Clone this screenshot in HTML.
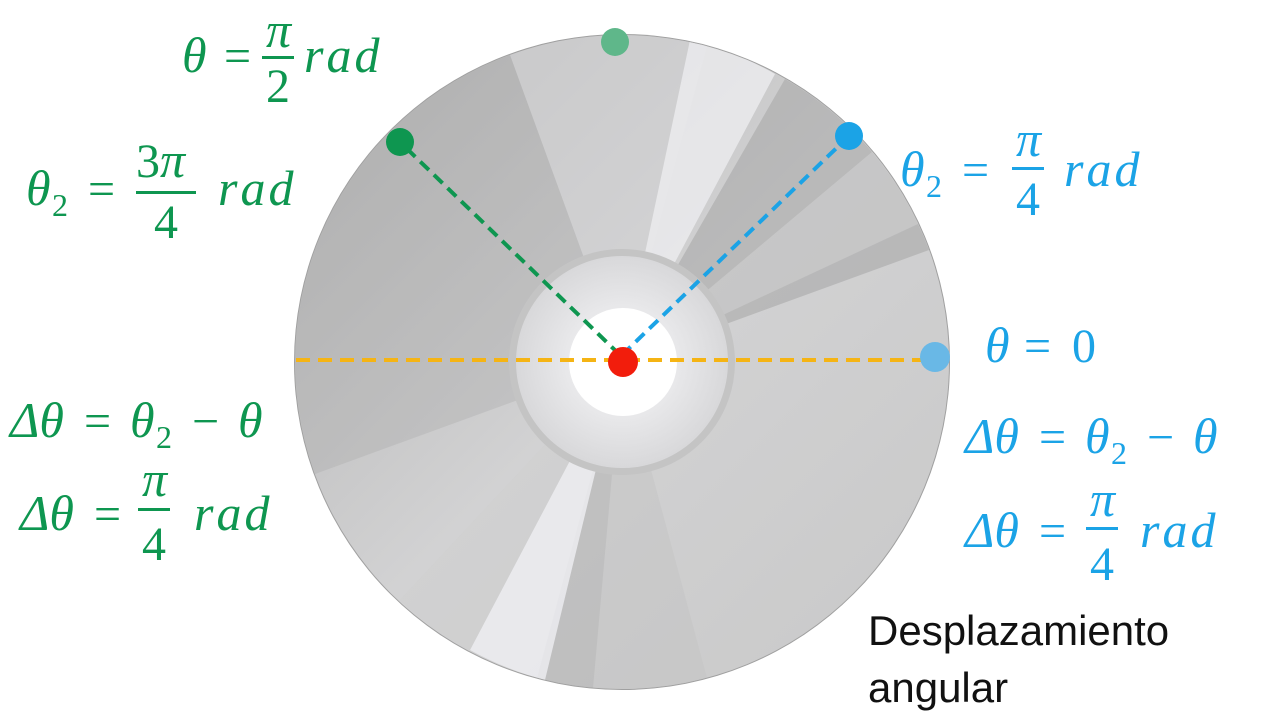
<!DOCTYPE html>
<html><head><meta charset="utf-8"><style>
html,body{margin:0;padding:0;background:#fff;width:1280px;height:720px;overflow:hidden}
svg{display:block}
.m{font-family:"Liberation Serif",serif;font-style:italic;font-size:50px}
.r{font-family:"Liberation Serif",serif;font-style:italic;font-size:50px;letter-spacing:3px}
.n{font-family:"Liberation Serif",serif;font-size:48px}
.s{font-family:"Liberation Serif",serif;font-size:32px}
.g{fill:#0e9650}.b{fill:#1ba3e6}
</style></head><body>
<svg width="1280" height="720" viewBox="0 0 1280 720">
<defs>
<linearGradient id="dg" x1="0" y1="0" x2="1" y2="1">
<stop offset="0" stop-color="#b0b0b0"/><stop offset="0.5" stop-color="#d2d2d3"/><stop offset="1" stop-color="#c8c8c8"/>
</linearGradient>
<radialGradient id="hub" cx="0.5" cy="0.5" r="0.5">
<stop offset="0.5" stop-color="#e9e9eb"/><stop offset="1" stop-color="#d8d8da"/>
</radialGradient>
<clipPath id="dc"><circle cx="622" cy="362" r="327"/></clipPath>
</defs>
<circle cx="622" cy="362" r="328" fill="#a0a0a0"/>
<circle cx="622" cy="362" r="327" fill="url(#dg)"/>
<g clip-path="url(#dc)">
<path d="M622 362 L315 474 A327 327 0 0 1 510 55 Z" fill="#a8a8a8" opacity="0.35"/>
<path d="M622 362 L510 55 A327 327 0 0 1 707 46 Z" fill="#d4d4d6" opacity="0.6"/>
<path d="M622 362 L690 40 A327 327 0 0 1 775 74 Z" fill="#ececef" opacity="0.8"/>
<path d="M622 362 L785 79 A327 327 0 0 1 872 152 Z" fill="#a8a8a8" opacity="0.6"/>
<path d="M622 362 L872 152 A327 327 0 0 1 918 224 Z" fill="#bbbbbb" opacity="0.5"/>
<path d="M622 362 L918 224 A327 327 0 0 1 929 250 Z" fill="#a8a8a8" opacity="0.6"/>
<path d="M622 362 L707 678 A327 327 0 0 1 593 688 Z" fill="#c4c4c4" opacity="0.5"/>
<path d="M622 362 L593 688 A327 327 0 0 1 537 678 Z" fill="#b0b0b0" opacity="0.5"/>
<path d="M622 362 L545 680 A327 327 0 0 1 470 650 Z" fill="#efeff2" opacity="0.8"/>
<path d="M622 362 L470 650 A327 327 0 0 1 400 600 Z" fill="#d0d0d0" opacity="0.5"/>
</g>
<circle cx="622" cy="362" r="113" fill="#c4c4c4"/>
<circle cx="622" cy="362" r="106" fill="url(#hub)"/>
<circle cx="623" cy="362" r="54" fill="#fff"/>
<line x1="296" y1="360" x2="948" y2="360" stroke="#f5b414" stroke-width="4" stroke-dasharray="14 8"/>
<line x1="620" y1="355" x2="400" y2="142" stroke="#0e9650" stroke-width="4" stroke-dasharray="12 7"/>
<line x1="622" y1="355" x2="849" y2="136" stroke="#1ba3e6" stroke-width="4" stroke-dasharray="12 7"/>
<circle cx="623" cy="362" r="15" fill="#f21d0c"/>
<circle cx="400" cy="142" r="14" fill="#0e9650"/>
<circle cx="849" cy="136" r="14" fill="#1ba3e6"/>
<circle cx="615" cy="42" r="14" fill="#5fb78a"/>
<circle cx="935" cy="357" r="15" fill="#69b8e6"/>

<g class="g">
<text class="m" x="182" y="72">θ</text><text class="n" x="224" y="72">=</text>
<text class="m" x="266" y="47">π</text><rect x="262" y="56" width="32" height="3"/>
<text class="n" x="266" y="102">2</text>
<text class="r" x="304" y="72">rad</text>
<text class="m" x="26" y="205">θ</text><text class="s" x="52" y="216">2</text>
<text class="n" x="88" y="205">=</text>
<text class="n" x="136" y="177">3<tspan class="m">π</tspan></text><rect x="136" y="191" width="60" height="3"/>
<text class="n" x="154" y="238">4</text>
<text class="r" x="218" y="205">rad</text>
<text class="m" x="10" y="437">Δθ</text><text class="n" x="84" y="437">=</text>
<text class="m" x="130" y="437">θ</text><text class="s" x="156" y="448">2</text>
<text class="n" x="192" y="437">−</text><text class="m" x="238" y="437">θ</text>
<text class="m" x="20" y="530">Δθ</text><text class="n" x="94" y="530">=</text>
<text class="m" x="142" y="496">π</text><rect x="138" y="508" width="32" height="3"/>
<text class="n" x="142" y="560">4</text>
<text class="r" x="194" y="530">rad</text>
</g>
<g class="b">
<text class="m" x="900" y="186">θ</text><text class="s" x="926" y="197">2</text>
<text class="n" x="962" y="186">=</text>
<text class="m" x="1016" y="156">π</text><rect x="1012" y="167" width="32" height="3"/>
<text class="n" x="1016" y="215">4</text>
<text class="r" x="1064" y="186">rad</text>
<text class="m" x="985" y="362">θ</text><text class="n" x="1024" y="362">=</text><text class="n" x="1072" y="362">0</text>
<text class="m" x="965" y="453">Δθ</text><text class="n" x="1039" y="453">=</text>
<text class="m" x="1085" y="453">θ</text><text class="s" x="1111" y="464">2</text>
<text class="n" x="1147" y="453">−</text><text class="m" x="1193" y="453">θ</text>
<text class="m" x="965" y="547">Δθ</text><text class="n" x="1039" y="547">=</text>
<text class="m" x="1090" y="516">π</text><rect x="1086" y="527" width="32" height="3"/>
<text class="n" x="1090" y="580">4</text>
<text class="r" x="1140" y="547">rad</text>
</g>
<text x="868" y="645" font-family="Liberation Sans, sans-serif" font-size="42" fill="#111">Desplazamiento</text>
<text x="868" y="702" font-family="Liberation Sans, sans-serif" font-size="42" fill="#111">angular</text>
</svg>
</body></html>
